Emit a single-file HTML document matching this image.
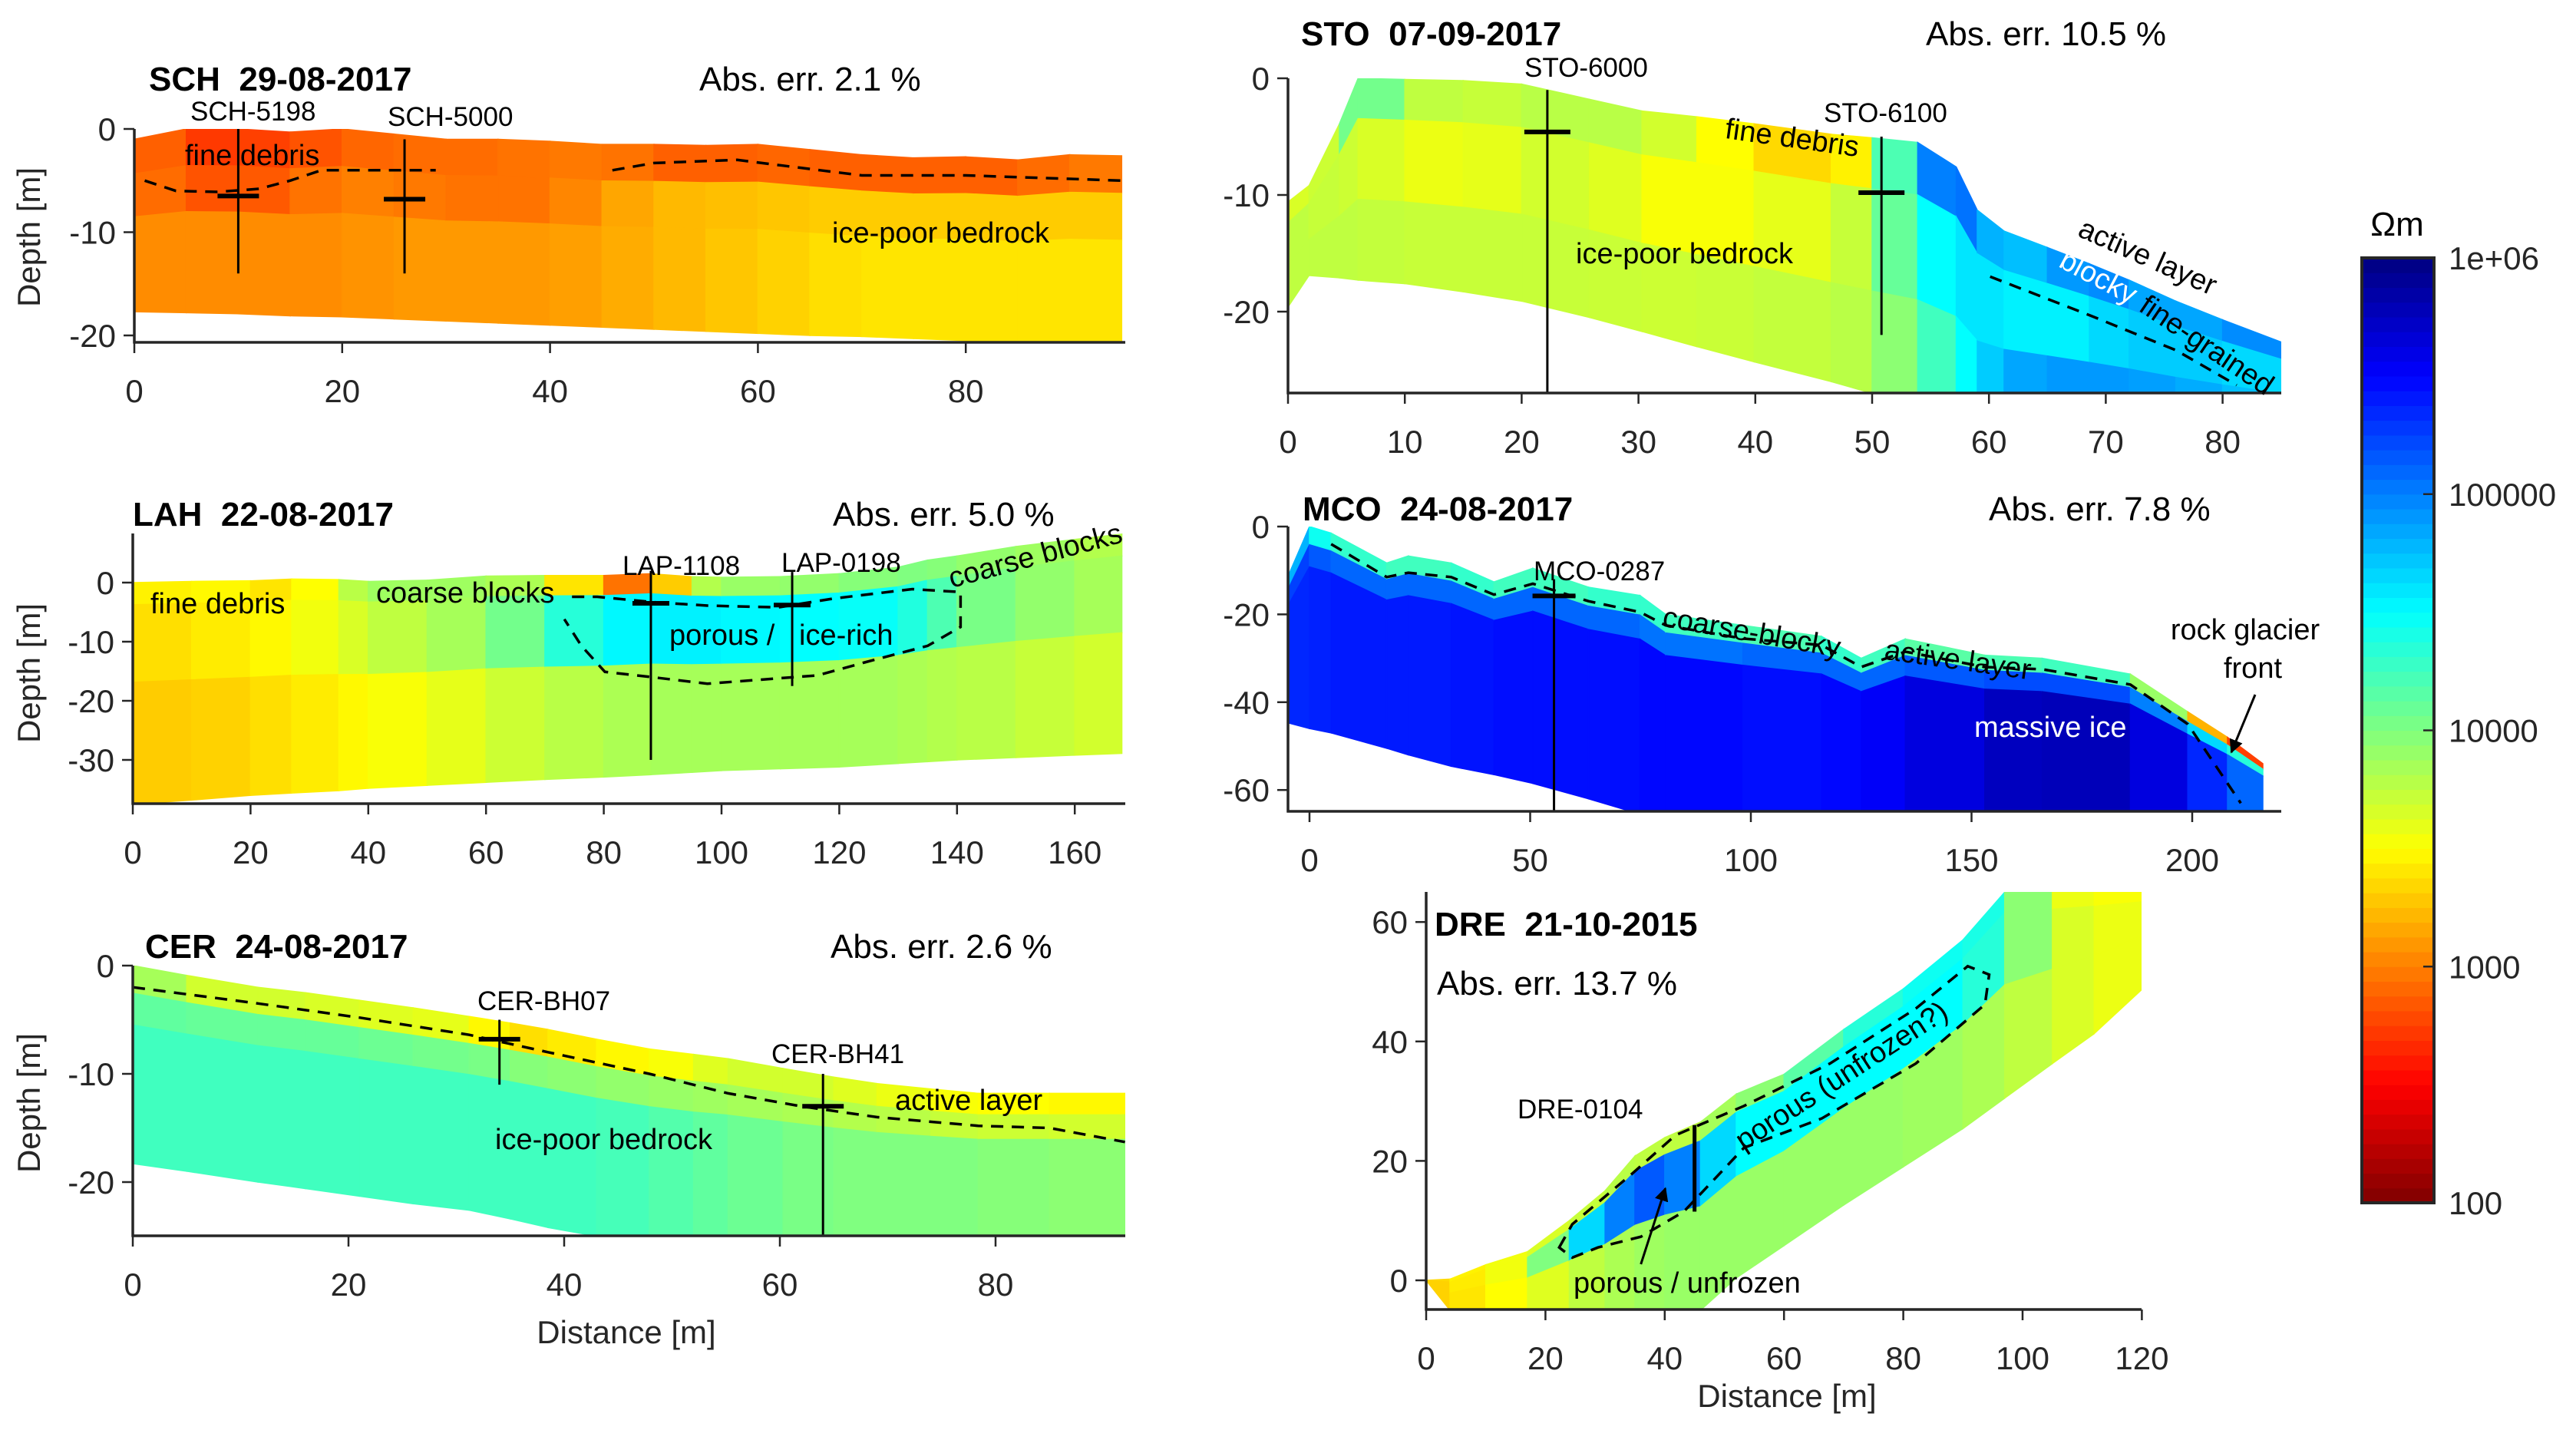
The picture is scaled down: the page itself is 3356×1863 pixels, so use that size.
<!DOCTYPE html>
<html><head><meta charset="utf-8">
<style>
html,body{margin:0;padding:0;background:#fff;}
svg{display:block;font-family:"Liberation Sans",Arial,sans-serif;}
.tick{font-size:42px;fill:#262626;}
.ttl{font-size:44px;font-weight:bold;fill:#000;}
.err{font-size:44px;fill:#000;}
.ann{font-size:38px;fill:#000;}
.bh{font-size:35px;fill:#000;}
.lab{font-size:42px;fill:#262626;}
</style></head>
<body>
<svg id="fig" width="3356" height="1863" viewBox="0 0 3356 1863" xmlns="http://www.w3.org/2000/svg">
<defs>
<marker id="arr" viewBox="0 0 10 10" refX="9" refY="5" markerWidth="6" markerHeight="6" orient="auto"><path d="M0,0 L10,5 L0,10 z" fill="#000"/></marker>
</defs>
<g id="layer-cells"></g>
<g id="layer-lines"></g>
<g id="layer-axes"></g>

<text class="ttl" x="194" y="118">SCH&#160;&#160;29-08-2017</text>
<text class="err" x="911" y="118">Abs. err. 2.1 %</text>
<text class="ttl" x="173" y="685">LAH&#160;&#160;22-08-2017</text>
<text class="err" x="1085" y="685">Abs. err. 5.0 %</text>
<text class="ttl" x="189" y="1248">CER&#160;&#160;24-08-2017</text>
<text class="err" x="1082" y="1248">Abs. err. 2.6 %</text>
<text class="ttl" x="1695" y="59">STO&#160;&#160;07-09-2017</text>
<text class="err" x="2509" y="59">Abs. err. 10.5 %</text>
<text class="ttl" x="1697" y="678">MCO&#160;&#160;24-08-2017</text>
<text class="err" x="2591" y="678">Abs. err. 7.8 %</text>
<text class="ttl" x="1869" y="1219">DRE&#160;&#160;21-10-2015</text>
<text class="err" x="1872" y="1296">Abs. err. 13.7 %</text>

<text class="lab" transform="translate(52,309) rotate(-90)" text-anchor="middle">Depth [m]</text>
<text class="lab" transform="translate(52,877) rotate(-90)" text-anchor="middle">Depth [m]</text>
<text class="lab" transform="translate(52,1437) rotate(-90)" text-anchor="middle">Depth [m]</text>
<text class="lab" x="816" y="1750" text-anchor="middle">Distance [m]</text>
<text class="lab" x="2328" y="1833" text-anchor="middle">Distance [m]</text>

<text class="ann" x="241" y="215">fine  debris</text>
<text class="ann" x="1084" y="316">ice-poor bedrock</text>
<text class="bh" x="248" y="157">SCH-5198</text>
<text class="bh" x="505" y="164">SCH-5000</text>

<text class="ann" x="196" y="799">fine debris</text>
<text class="ann" x="490" y="785">coarse blocks</text>
<text class="bh" x="811" y="749">LAP-1108</text>
<text class="bh" x="1018" y="745">LAP-0198</text>
<text class="ann" x="872" y="840">porous /</text>
<text class="ann" x="1041" y="840">ice-rich</text>
<text class="ann" transform="translate(1352,736) rotate(-15)" text-anchor="middle">coarse blocks</text>

<text class="bh" x="622" y="1316">CER-BH07</text>
<text class="bh" x="1005" y="1385">CER-BH41</text>
<text class="ann" x="1166" y="1446">active layer</text>
<text class="ann" x="645" y="1497">ice-poor bedrock</text>

<text class="bh" x="1986" y="100">STO-6000</text>
<text class="bh" x="2376" y="159">STO-6100</text>
<text class="ann" transform="translate(2333,192) rotate(8)" text-anchor="middle">fine  debris</text>
<text class="ann" x="2053" y="343">ice-poor bedrock</text>
<text class="ann" transform="translate(2793,346) rotate(24)" text-anchor="middle">active layer</text>
<text class="ann" transform="translate(2728,372) rotate(28)" text-anchor="middle" style="fill:#fff">blocky</text>
<text class="ann" transform="translate(2868,460) rotate(34)" text-anchor="middle">fine-grained</text>

<text class="bh" x="1998" y="756">MCO-0287</text>
<text class="ann" transform="translate(2280,836) rotate(10)" text-anchor="middle">coarse-blocky</text>
<text class="ann" transform="translate(2549,872) rotate(8)" text-anchor="middle">active layer</text>
<text class="ann" x="2572" y="960" style="fill:#fff">massive ice</text>
<text class="ann" x="2925" y="833" text-anchor="middle">rock glacier</text>
<text class="ann" x="2935" y="883" text-anchor="middle">front</text>
<line x1="2938" y1="905" x2="2907" y2="980" stroke="#000" stroke-width="3" marker-end="url(#arr)"/>

<text class="bh" x="1977" y="1457">DRE-0104</text>
<text class="ann" x="2050" y="1684">porous / unfrozen</text>
<text class="ann" transform="translate(2406,1412) rotate(-33)" text-anchor="middle">porous   (unfrozen?)</text>

<g id="cbar"></g>
<text x="3123" y="307" text-anchor="middle" style="font-size:44px">Ωm</text>
</svg>
<script>
const schX=[0,5,10,15,20,25,30,35,40,45,50,55,60,65,70,75,80,85,90,95];
const schTop=[-1,0,0,-0.3,0,-0.5,-1,-1,-1.2,-1.5,-1.5,-1.6,-1.5,-2,-2.5,-2.8,-2.7,-3,-2.5,-2.6];
const schBot=[-17.7,-17.8,-17.9,-18.1,-18.2,-18.4,-18.6,-18.8,-19,-19.2,-19.4,-19.6,-19.8,-20,-20.1,-20.3,-20.5,-20.6,-20.7,-20.8];
const schR0=[3.0,2.75,2.7,2.8,2.85,2.95,2.9,2.95,2.95,3.0,2.9,2.85,2.9,2.9,2.85,2.9,2.85,2.9,2.95,3.0];
const schR1=[3.0,2.85,2.8,2.9,3.0,3.0,2.95,2.95,2.95,3.1,3.2,3.25,3.25,3.3,3.3,3.3,3.3,3.3,3.3,3.3];
const schR2=[3.05,3.05,3.05,3.05,3.05,3.1,3.1,3.1,3.1,3.15,3.2,3.25,3.3,3.35,3.4,3.4,3.4,3.4,3.4,3.4];
const schDashX=[1,4,8,12,15,18,22,26,29,null,46,50,58,62,66,70,80,95];
const schDashZ=[-5,-6,-6.1,-5.8,-5,-4,-4,-4,-4,null,-4,-3.3,-3,-3.5,-4,-4.5,-4.5,-5];

const lahX=[0,10,20,27,35,40,50,60,70,80,88,95,100,110,120,130,135,140,150,160,168];
const lahTop=[0,0.2,0.3,0.6,0.5,0.2,0.4,1.1,1.2,1.2,1.5,1.0,0.9,1.0,1.5,2.6,3.8,4.5,6.1,7.3,8.2];
const lahBot=[-37.5,-36.8,-36,-35.6,-35.2,-34.8,-34.3,-33.8,-33.3,-32.9,-32.5,-32.1,-31.8,-31.5,-31.2,-30.6,-30.3,-30,-29.6,-29.2,-28.9];
const lahR0=[3.45,3.45,3.5,3.3,3.7,3.85,3.9,3.85,3.8,3.0,2.9,3.7,3.9,3.9,3.95,4.0,4.0,3.95,3.9,3.85,3.75];
const lahR1=[3.35,3.4,3.45,3.5,3.6,3.7,3.8,3.9,4.2,4.5,4.55,4.55,4.55,4.5,4.5,4.45,4.3,4.1,3.95,3.9,3.8];
const lahR2=[3.3,3.3,3.35,3.4,3.45,3.5,3.55,3.65,3.75,3.8,3.85,3.85,3.85,3.85,3.85,3.85,3.8,3.8,3.75,3.7,3.65];
const lahDashX=[74.6,78.9,88.2,97.6,109.6,119,132.4,140.6,140.6,135,124.3,116.3,97.6,88.2,80.2,76.2,73.3];
const lahDashZ=[-2.4,-2.4,-3.3,-3.9,-4.2,-2.7,-1.1,-1.6,-7.5,-10.7,-13.5,-15.7,-17.1,-16,-15.1,-10.7,-6.2];

const cerX=[0,5,11.6,16,21,26,31.2,35,38.5,43,47.9,52,55.2,60.3,65,69,74,78.4,85,92];
const cerTop=[0,-0.9,-2,-2.5,-3.2,-3.9,-4.7,-5.3,-5.9,-6.8,-7.7,-8.2,-8.6,-9.5,-10.3,-10.9,-11.4,-11.8,-11.8,-11.8];
const cerBot=[-18.3,-19,-20,-20.6,-21.3,-22,-22.6,-23.4,-24.2,-25,-25.5,-26,-26,-26,-26,-26,-26,-26,-26,-26];
const cerR0=[4.0,3.7,3.65,3.7,3.6,3.65,3.55,3.4,3.35,3.5,3.45,3.6,3.65,3.7,3.65,3.6,3.55,3.5,3.5,3.45];
const cerR1=[4.15,4.1,4.1,4.1,4.1,4.05,4.05,4.0,3.95,3.95,3.9,3.9,3.85,3.85,3.8,3.8,3.75,3.7,3.7,3.65];
const cerR2=[4.25,4.25,4.25,4.25,4.25,4.25,4.25,4.25,4.25,4.25,4.2,4.15,4.1,4.05,4.0,4.0,4.0,4.0,3.95,3.95];
const cerDashX=[0,11.6,21,31.2,38.5,47.9,55.2,62,69,78.4,85,92];
const cerDashZ=[-2,-3.5,-4.8,-6.4,-8,-10,-11.8,-13,-14,-14.8,-15,-16.3];

const stoX=[0,1.8,4.4,6,10,15,20,25.8,30.3,35,39.9,46.5,50,53.9,57.2,59,61.3,65,68.6,72,76,80,85];
const stoTop=[-10.6,-9.2,-3.9,0,-0.1,-0.2,-0.5,-1.8,-2.8,-3.3,-3.9,-4.8,-5.1,-5.5,-7.6,-11.3,-13.1,-14.5,-15.9,-17.3,-19.1,-20.7,-22.6];
const stoBot=[-19.6,-16.9,-17.1,-17.3,-17.6,-18.3,-19.1,-20.5,-21.7,-23,-24.3,-26,-27,-28,-29,-30,-30,-30,-30,-30,-30,-30,-30];
const stoR0=[3.7,3.6,3.8,4.3,3.8,3.7,3.75,3.8,3.75,3.6,3.4,3.3,3.6,4.8,5.2,4.9,4.7,4.8,5.0,4.9,4.8,4.9,5.0];
const stoR1=[3.75,3.75,3.7,3.7,3.6,3.55,3.65,3.7,3.55,3.5,3.55,3.65,3.8,4.4,4.6,4.6,4.6,4.5,4.6,4.7,4.7,4.7,4.6];
const stoR2=[3.75,3.75,3.75,3.75,3.72,3.72,3.72,3.72,3.7,3.7,3.72,3.75,3.8,4.1,4.4,4.6,4.8,4.9,4.9,4.9,4.85,4.8,4.7];
const stoDashX=[60.1,68.6,76,81.2];
const stoDashZ=[-17,-20.3,-23.3,-26.3];

const mcoX=[-4.9,0,4.9,17.5,22.4,32.1,41.8,50.6,63.2,74.9,80.7,98.2,116,125,135,153,166,186,199,208,216];
const mcoTop=[-11.4,0,-1.5,-8.3,-6.7,-8.3,-12.6,-9.5,-13.8,-15.7,-20,-22.5,-25,-30,-25.6,-29.3,-30,-33.6,-42.2,-48,-54];
const mcoBot=[-44.7,-46,-47,-50.5,-52,-54.6,-56.5,-58.5,-62,-65.5,-67,-68,-68,-68,-68,-68,-68,-68,-68,-68,-68];
const mcoR0=[5.0,4.6,4.3,4.3,4.2,4.3,4.3,4.2,4.3,4.3,4.3,4.2,4.2,4.4,4.1,4.2,4.2,4.3,3.5,2.9,2.6];
const mcoR1=[5.3,5.2,5.1,5.1,5.1,5.1,5.1,5.1,5.1,5.1,5.0,5.1,5.1,5.1,5.1,5.2,5.2,5.2,4.8,4.5,4.2];
const mcoR2=[5.35,5.35,5.4,5.4,5.4,5.4,5.45,5.45,5.45,5.45,5.5,5.45,5.45,5.5,5.55,5.7,5.8,5.75,5.5,5.2,5.0];
const mcoDashX=[4.9,17.5,22.4,32.1,41.8,50.6,63.2,74.9,80.7,98.2,116,125,135,153,166,186,199,211];
const mcoDashZ=[-4,-11.5,-10.5,-11.5,-15.5,-13,-17,-19.5,-22.5,-25.5,-27,-32,-28.5,-32,-32.5,-36,-45,-63];

const dreX=[0,4,10,17,24,30,35,40,46,52,60,70,80,90,97,105,112,120];
const dreTop=[0,0.2,2.6,4.8,10,15,20.8,23.9,26.5,31.2,34.5,42,48.8,57,65,65,65,65];
const dreBot=[0,-5,-5,-5,-5,-5,-5,-5,-5,0.4,5.8,12.6,19,25.4,30.5,36.3,41.3,48.7];
const dreR0=[3.3,3.4,3.5,3.6,3.7,3.75,3.8,3.7,3.8,3.9,4.0,4.3,4.4,4.5,4.3,3.6,3.55,3.5];
const dreR1=[3.3,3.35,3.5,3.6,4.4,4.9,5.1,5.2,4.8,4.5,4.5,4.5,4.5,4.5,4.2,3.7,3.6,3.55];
const dreR2=[3.3,3.35,3.45,3.55,3.7,3.8,3.85,3.9,3.9,3.9,3.9,3.9,3.9,3.85,3.8,3.7,3.6,3.55];
const dreDashX=[22.3,24.5,34.6,41.8,53.3,67.7,82.1,90.8,94.4,93.7,82.1,66.3,53.3,43.2,36,28.8,24.5];
const dreDashZ=[5.5,9.4,17.9,24.3,29.2,36.3,45.5,52.6,51.2,46.2,36.3,27.1,22.2,11.5,7.3,5.5,3.8];

const schBoreX=[10,26], schBoreZ0=[0,-1], schBoreZ1=[-14,-14], schBoreC=[-6.5,-6.8];
const lahBoreX=[88,112], lahBoreZ0=[2,1.8], lahBoreZ1=[-30,-17.5], lahBoreC=[-3.5,-3.8];
const cerBoreX=[34,64], cerBoreZ0=[-5,-10], cerBoreZ1=[-11,-25], cerBoreC=[-6.8,-13];
const stoBoreX=[22.2,50.8], stoBoreZ0=[-1,-5], stoBoreZ1=[-27,-22], stoBoreC=[-4.6,-9.8];
const mcoBoreX=[55.4], mcoBoreZ0=[-12], mcoBoreZ1=[-65], mcoBoreC=[-15.8];
const dreBoreX=[45], dreBoreZ0=[11.5], dreBoreZ1=[26], dreBoreC=[null];

const cbarTicks=[2,3,4,5,6];
const cbarLabels=["100","1000","10000","100000","1e+06"];

const NS="http://www.w3.org/2000/svg";
function mk(tag,parent){const e=document.createElementNS(NS,tag);parent.appendChild(e);return e;}
function jet(v){let t=1-(v-2)/4;const c=x=>Math.round(255*Math.max(0,Math.min(1,x)));
  return `rgb(${c(1.5-Math.abs(4*t-3))},${c(1.5-Math.abs(4*t-2))},${c(1.5-Math.abs(4*t-1))})`;}

const cells=document.getElementById('layer-cells');
const lines=document.getElementById('layer-lines');
const axes=document.getElementById('layer-axes');
const defs=document.querySelector('defs');

function panel(p){
  const X=x=>p.x0+x*p.sx, Y=z=>p.y0-z*p.sy;
  const cp=mk('clipPath',defs); cp.setAttribute('id','clip-'+p.id);
  const cr=mk('rect',cp); cr.setAttribute('x',p.left);cr.setAttribute('y',p.top);
  cr.setAttribute('width',p.right-p.left);cr.setAttribute('height',p.bottom-p.top);
  const g=mk('g',cells); g.setAttribute('clip-path','url(#clip-'+p.id+')');
  
  
  const f=p.frac, rows=p.rows, xs=p.xs, top=p.topZ, bot=p.botZ;
  for(let i=0;i<xs.length-1;i++){
    for(let r=0;r<rows.length;r++){
      const za=(k,fr)=>top[k]+(bot[k]-top[k])*fr;
      const pts=[[X(xs[i]),Y(za(i,f[r]))],[X(xs[i+1]),Y(za(i+1,f[r]))],[X(xs[i+1]),Y(za(i+1,f[r+1]))],[X(xs[i]),Y(za(i,f[r+1]))]];
      const col=jet((rows[r][i]+rows[r][i+1])/2);
      const pg=mk('polygon',g);
      pg.setAttribute('points',pts.map(q=>q.join(',')).join(' '));
      pg.setAttribute('fill',col);pg.setAttribute('stroke',col);pg.setAttribute('stroke-width','1.5');
      
      
    }
  }
  let d='',pen=false;
  for(let i=0;i<p.dx.length;i++){
    if(p.dx[i]===null){pen=false;continue;}
    d+=(pen?'L':'M')+X(p.dx[i]).toFixed(1)+','+Y(p.dz[i]).toFixed(1)+' ';pen=true;
  }
  if(p.closed)d+='Z';
  const dl=mk('path',lines); dl.setAttribute('d',d);dl.setAttribute('fill','none');
  dl.setAttribute('stroke','#000');dl.setAttribute('stroke-width','3.5');dl.setAttribute('stroke-dasharray','16 11');
  
  
  for(let i=0;i<p.bx.length;i++){
    const l=mk('line',lines);
    l.setAttribute('x1',X(p.bx[i]));l.setAttribute('x2',X(p.bx[i]));
    l.setAttribute('y1',Y(p.bz0[i]));l.setAttribute('y2',Y(p.bz1[i]));
    l.setAttribute('stroke','#000');l.setAttribute('stroke-width',p.id==='dre'?'5':'3');
    
    
    if(p.bc[i]!==null){
      const c=mk('line',lines);
      c.setAttribute('x1',X(p.bx[i])-p.cw);c.setAttribute('x2',X(p.bx[i])+p.cw);
      c.setAttribute('y1',Y(p.bc[i]));c.setAttribute('y2',Y(p.bc[i]));
      c.setAttribute('stroke','#000');c.setAttribute('stroke-width','6');
      
      
    }
  }
  const ax=mk('g',axes);
  
  
  const ln=(x1,y1,x2,y2,w)=>{const l=mk('line',ax);l.setAttribute('x1',x1);l.setAttribute('y1',y1);l.setAttribute('x2',x2);l.setAttribute('y2',y2);l.setAttribute('stroke','#262626');l.setAttribute('stroke-width',w);return l;};
  ln(p.left,p.top,p.left,p.bottom+1.5,3.5);
  ln(p.left-1.5,p.bottom,p.right,p.bottom,3.5);
  p.xt.forEach(v=>{const x=X(v);ln(x,p.bottom,x,p.bottom+14,2.5);
    const t=mk('text',ax);t.setAttribute('class','tick');t.setAttribute('x',x);t.setAttribute('y',p.bottom+78);t.setAttribute('text-anchor','middle');t.textContent=v;
    
    });
  p.yt.forEach(v=>{const y=Y(v);ln(p.left-14,y,p.left,y,2.5);
    const t=mk('text',ax);t.setAttribute('class','tick');t.setAttribute('x',p.left-24);t.setAttribute('y',y+15);t.setAttribute('text-anchor','end');t.textContent=v;
    
    });
}

panel({id:'sch',x0:175,sx:13.54,y0:168,sy:13.45,left:175,right:1466,top:168,bottom:446,xs:schX,topZ:schTop,botZ:schBot,rows:[schR0,schR1,schR2],frac:[0,0.2,0.45,1],dx:schDashX,dz:schDashZ,bx:schBoreX,bz0:schBoreZ0,bz1:schBoreZ1,bc:schBoreC,cw:27,xt:[0,20,40,60,80],yt:[0,-10,-20]});
panel({id:'lah',x0:173,sx:7.67,y0:759,sy:7.7,left:173,right:1466,top:695,bottom:1047,xs:lahX,topZ:lahTop,botZ:lahBot,rows:[lahR0,lahR1,lahR2],frac:[0,0.1,0.45,1],dx:lahDashX,dz:lahDashZ,bx:lahBoreX,bz0:lahBoreZ0,bz1:lahBoreZ1,bc:lahBoreC,cw:24,closed:false,xt:[0,20,40,60,80,100,120,140,160],yt:[0,-10,-20,-30]});
panel({id:'cer',x0:173,sx:14.05,y0:1258,sy:14.1,left:173,right:1466,top:1258,bottom:1610,xs:cerX,topZ:cerTop,botZ:cerBot,rows:[cerR0,cerR1,cerR2],frac:[0,0.14,0.3,1],dx:cerDashX,dz:cerDashZ,bx:cerBoreX,bz0:cerBoreZ0,bz1:cerBoreZ1,bc:cerBoreC,cw:27,xt:[0,20,40,60,80],yt:[0,-10,-20]});
panel({id:'sto',x0:1678,sx:15.22,y0:102,sy:15.2,left:1678,right:2972,top:102,bottom:512,xs:stoX,topZ:stoTop,botZ:stoBot,rows:[stoR0,stoR1,stoR2],frac:[0,0.2,0.6,1],dx:stoDashX,dz:stoDashZ,bx:stoBoreX,bz0:stoBoreZ0,bz1:stoBoreZ1,bc:stoBoreC,cw:30,xt:[0,10,20,30,40,50,60,70,80],yt:[0,-10,-20]});
panel({id:'mco',x0:1706,sx:5.75,y0:686,sy:5.72,left:1678,right:2972,top:686,bottom:1057,xs:mcoX,topZ:mcoTop,botZ:mcoBot,rows:[mcoR0,mcoR1,mcoR2],frac:[0,0.09,0.2,1],dx:mcoDashX,dz:mcoDashZ,bx:mcoBoreX,bz0:mcoBoreZ0,bz1:mcoBoreZ1,bc:mcoBoreC,cw:28,xt:[0,50,100,150,200],yt:[0,-20,-40,-60]});
panel({id:'dre',x0:1858,sx:7.77,y0:1668,sy:7.78,left:1858,right:2790,top:1162,bottom:1706,xs:dreX,topZ:dreTop,botZ:dreBot,rows:[dreR0,dreR1,dreR2],frac:[0,0.1,0.45,1],dx:dreDashX,dz:dreDashZ,closed:true,bx:dreBoreX,bz0:dreBoreZ0,bz1:dreBoreZ1,bc:dreBoreC,cw:0,xt:[0,20,40,60,80,100,120],yt:[0,20,40,60]});

(function(){const X=x=>1858+x*7.77,Y=z=>1668-z*7.78;
 const a=mk('line',lines);a.setAttribute('x1',X(36));a.setAttribute('y1',Y(2.7));a.setAttribute('x2',X(40.1));a.setAttribute('y2',Y(15.4));
 a.setAttribute('stroke','#000');a.setAttribute('stroke-width','3');a.setAttribute('marker-end','url(#arr)');
 
 })();

(function(){const cb=document.getElementById('cbar');const top=336,bot=1567,L=3077,R=3171,n=64;
 const Yc=v=>bot-(v-2)/4*(bot-top);
 for(let i=0;i<n;i++){const v0=2+4*i/n,v1=2+4*(i+1)/n;const r=mk('rect',cb);
  r.setAttribute('x',L);r.setAttribute('y',Yc(v1));r.setAttribute('width',R-L);r.setAttribute('height',Yc(v0)-Yc(v1)+0.6);
  r.setAttribute('fill',jet((v0+v1)/2));
  
  }
 const o=mk('rect',cb);o.setAttribute('x',L);o.setAttribute('y',top);o.setAttribute('width',R-L);o.setAttribute('height',bot-top);
 o.setAttribute('fill','none');o.setAttribute('stroke','#262626');o.setAttribute('stroke-width','4');
 
 
 cbarTicks.forEach((v,i)=>{const y=Yc(v);
  if(i>0&&i<cbarTicks.length-1){const t=mk('line',cb);t.setAttribute('x1',R-14);t.setAttribute('x2',R);t.setAttribute('y1',y);t.setAttribute('y2',y);t.setAttribute('stroke','#262626');t.setAttribute('stroke-width','2.5');}
  const tx=mk('text',cb);tx.setAttribute('class','tick');tx.setAttribute('x',3190);tx.setAttribute('y',y+15);tx.textContent=cbarLabels[i];
  
  });
})();
</script>
</body></html>
